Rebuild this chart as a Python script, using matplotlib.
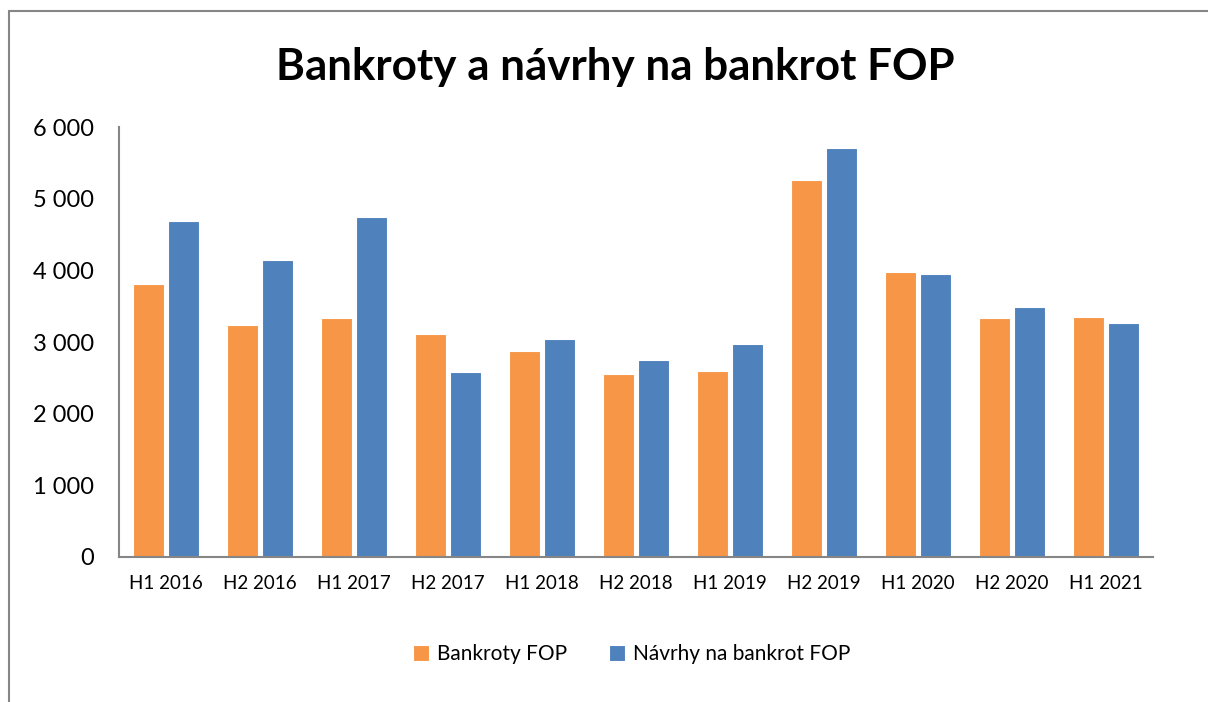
import matplotlib
matplotlib.use("Agg")
import matplotlib.pyplot as plt
import matplotlib.patches as patches
from matplotlib.ticker import FuncFormatter
import numpy as np

categories = ["H1 2016", "H2 2016", "H1 2017", "H2 2017", "H1 2018", "H2 2018",
              "H1 2019", "H2 2019", "H1 2020", "H2 2020", "H1 2021"]
bankroty = [3815, 3233, 3331, 3107, 2870, 2549, 2595, 5260, 3982, 3340, 3349]
navrhy = [4684, 4150, 4744, 2577, 3047, 2754, 2968, 5707, 3954, 3494, 3261]
series_names = ["Bankroty FOP", "Návrhy na bankrot FOP"]
title = "Bankroty a návrhy na bankrot FOP"


def main():
    plt.rcParams['font.family'] = ['Lato', 'DejaVu Sans']
    fig = plt.figure(figsize=(12.08, 7.02), dpi=100)
    ax = fig.add_axes([0.0985, 0.2066, 0.856, 0.6124])

    x = np.arange(len(categories))
    w = 0.33
    off = 0.187
    ax.bar(x - off, bankroty, w, color='#F79646', edgecolor='white', linewidth=0.8,
           label=series_names[0])
    ax.bar(x + off, navrhy, w, color='#4F81BD', edgecolor='white', linewidth=0.8,
           label=series_names[1])

    ax.set_xlim(-0.5, len(categories) - 0.5)
    ax.set_ylim(0, 6000)
    ax.set_yticks(range(0, 6001, 1000))
    ax.yaxis.set_major_formatter(FuncFormatter(lambda v, p: f"{int(v):,}".replace(",", " ")))
    ax.set_xticks(x)
    ax.set_xticklabels(categories)

    for s in ['top', 'right']:
        ax.spines[s].set_visible(False)
    for s in ['left', 'bottom']:
        ax.spines[s].set_color('#868686')
        ax.spines[s].set_linewidth(1.5)
    ax.tick_params(axis='y', length=0, pad=18, labelsize=17)
    ax.tick_params(axis='x', length=0, pad=13, labelsize=13.5)

    fig.text(0.509, 0.905, title, ha='center', va='center', fontsize=31.7,
             fontweight='bold')

    fig.legend(loc='center', bbox_to_anchor=(0.523, 0.068), ncol=2, frameon=False,
               fontsize=15, handlelength=0.75, handleheight=0.75, handletextpad=0.4,
               columnspacing=2.0)

    # outer chart frame, cut at right and bottom
    frame = patches.Rectangle((9 / 1208, -0.1), 1.2, 1 - 11 / 702 + 0.1,
                              transform=fig.transFigure, fill=False,
                              edgecolor='#868686', linewidth=1.5, clip_on=False)
    fig.patches.append(frame)

    plt.savefig("out.png", dpi=100)


if __name__ == '__main__':
    main()
